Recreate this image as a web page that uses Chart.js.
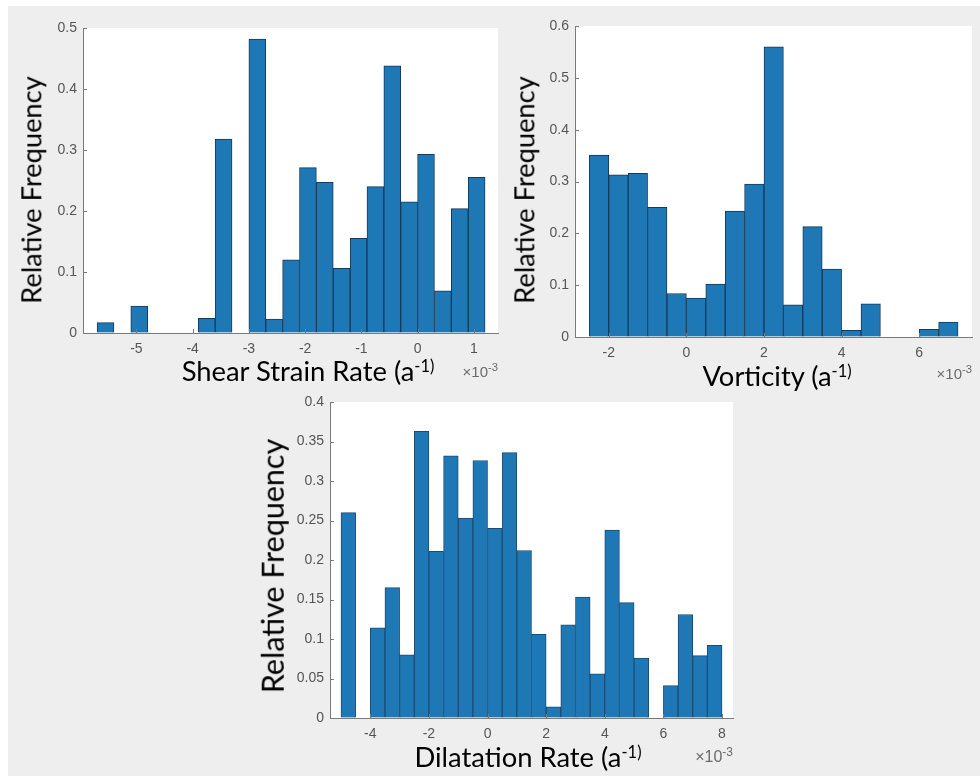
<!DOCTYPE html>
<html><head><meta charset="utf-8">
<script src="https://cdn.jsdelivr.net/npm/chart.js@4/dist/chart.umd.min.js"></script>
<style>
html,body{margin:0;padding:0;width:980px;height:776px;overflow:hidden;background:#fff;}
#bg{position:absolute;left:8px;top:6px;width:972px;height:770px;background:#eeeeee;}
canvas{position:absolute;left:0;top:0;}
.t{position:absolute;font-family:Lato,'Open Sans',sans-serif;color:#000;white-space:nowrap;line-height:1;}
.t sup{font-size:0.6em;vertical-align:baseline;position:relative;top:-0.55em;}
.xt{transform:translateX(-50%);}
.yt{transform:translate(-50%,-50%) rotate(-90deg);}
.m{position:absolute;font-family:'Liberation Sans',Arial,sans-serif;color:#6a6a6a;white-space:nowrap;line-height:1;}
.m sup{font-size:0.75em;vertical-align:baseline;position:relative;top:-0.5em;}
</style></head><body>
<div id="bg"></div>
<canvas id="c1" width="980" height="776"></canvas>
<canvas id="c2" width="980" height="776"></canvas>
<canvas id="c3" width="980" height="776"></canvas>

<div class="t yt" style="left:31px;top:190px;font-size:27.3px;">Relative Frequency</div>
<div class="t xt" style="left:308px;top:357px;font-size:27.4px;">Shear Strain Rate (a<sup>-1)</sup></div>
<div class="m" style="right:482px;top:364px;font-size:15px;">×10<sup>-3</sup></div>

<div class="t yt" style="left:524px;top:190px;font-size:27.3px;">Relative Frequency</div>
<div class="t xt" style="left:777px;top:362px;font-size:27.4px;">Vorticity (a<sup>-1)</sup></div>
<div class="m" style="right:8px;top:366px;font-size:15px;">×10<sup>-3</sup></div>

<div class="t yt" style="left:272px;top:566px;font-size:30.5px;">Relative Frequency</div>
<div class="t xt" style="left:528px;top:743px;font-size:27.4px;">Dilatation Rate (a<sup>-1)</sup></div>
<div class="m" style="right:247px;top:749px;font-size:16px;">×10<sup>-3</sup></div>

<script>
// ---- Shear strain rate (x 1e-3 a^-1), bins of 0.3 ----
const shearBins = [-5.55,-5.25,-4.95,-4.65,-4.35,-4.05,-3.75,-3.45,-3.15,-2.85,-2.55,-2.25,-1.95,-1.65,-1.35,-1.05,-0.75,-0.45,-0.15,0.15,0.45,0.75,1.05];
const shearFreq = [0.017,0,0.044,0,0,0,0.024,0.318,0,0.482,0.023,0.120,0.271,0.247,0.106,0.155,0.240,0.438,0.215,0.293,0.069,0.204,0.255];
const shearTicks = [-5,-4,-3,-2,-1,0,1];
const shearFreqTicks = [0,0.1,0.2,0.3,0.4,0.5];

// ---- Vorticity (x 1e-3 a^-1), bins of 0.5 ----
const vortBins = [-2.25,-1.75,-1.25,-0.75,-0.25,0.25,0.75,1.25,1.75,2.25,2.75,3.25,3.75,4.25,4.75,5.25,5.75,6.25,6.75];
const vortFreq = [0.351,0.313,0.316,0.250,0.084,0.075,0.102,0.243,0.295,0.560,0.062,0.213,0.131,0.013,0.064,0,0,0.015,0.029];
const vortTicks = [-2,0,2,4,6];
const vortFreqTicks = [0,0.1,0.2,0.3,0.4,0.5,0.6];

// ---- Dilatation rate (x 1e-3 a^-1), bins of 0.5 ----
const dilBins = [-4.75,-4.25,-3.75,-3.25,-2.75,-2.25,-1.75,-1.25,-0.75,-0.25,0.25,0.75,1.25,1.75,2.25,2.75,3.25,3.75,4.25,4.75,5.25,5.75,6.25,6.75,7.25,7.75];
const dilFreq = [0.260,0,0.114,0.165,0.080,0.363,0.211,0.332,0.253,0.326,0.240,0.336,0.212,0.106,0.014,0.118,0.153,0.056,0.238,0.146,0.076,0,0.041,0.131,0.079,0.092];
const dilTicks = [-4,-2,0,2,4,6,8];
const dilFreqTicks = [0,0.05,0.1,0.15,0.2,0.25,0.3,0.35,0.4];

const AXIS = '#7a7a7a';
const TICKCOL = '#555555';
const BAR = 'rgb(31,120,182)';

const plotBg = {
  id:'plotBg',
  beforeDraw(chart){
    const {ctx, chartArea:a} = chart;
    ctx.save(); ctx.fillStyle='#ffffff';
    ctx.fillRect(a.left, a.top, a.right-a.left, a.bottom-a.top);
    ctx.restore();
  }
};
const inwardTicks = {
  id:'inwardTicks',
  afterDatasetsDraw(chart){
    const {ctx, chartArea:a, scales:{x,y}} = chart;
    ctx.save(); ctx.strokeStyle=AXIS; ctx.lineWidth=1; ctx.beginPath();
    x.ticks.forEach(t=>{const p=Math.round(x.getPixelForValue(t.value))+0.5; ctx.moveTo(p,a.bottom); ctx.lineTo(p,a.bottom-4);});
    y.ticks.forEach(t=>{const p=Math.round(y.getPixelForValue(t.value))+0.5; ctx.moveTo(a.left,p); ctx.lineTo(a.left+4,p);});
    ctx.stroke(); ctx.restore();
  }
};

function makeHist(id, bins, freq, xTicks, yTicks, area, xr, opts){
  const yW = 50, xH = 30;
  const data = bins.map((b,i)=>({x:b, y:freq[i]}));
  return new Chart(document.getElementById(id), {
    type:'bar',
    data:{datasets:[{data, backgroundColor:BAR, borderColor:opts.edge, borderWidth:1, barPercentage:1, categoryPercentage:1}]},
    options:{
      responsive:false, animation:false, devicePixelRatio:1,
      layout:{autoPadding:false, padding:{left:area.left-yW, top:area.top, right:980-area.right, bottom:776-area.bottom-xH}},
      plugins:{legend:{display:false}, tooltip:{enabled:false}},
      scales:{
        x:{type:'linear', min:xr[0], max:xr[1], offset:false,
          afterBuildTicks(s){ s.ticks = xTicks.map(v=>({value:v})); },
          afterFit(s){ s.height = xH; s.paddingLeft=0; s.paddingRight=0; },
          grid:{display:true, drawOnChartArea:false, drawTicks:false},
          border:{display:true, color:AXIS, width:1},
          ticks:{autoSkip:false, maxRotation:0, padding:opts.xpad, color:TICKCOL, font:{family:'Liberation Sans', size:opts.tickSize}, callback:v=>String(v)}
        },
        y:{type:'linear', min:0, max:yTicks[yTicks.length-1],
          afterBuildTicks(s){ s.ticks = yTicks.map(v=>({value:v})); },
          afterFit(s){ s.width = yW; s.paddingTop=0; s.paddingBottom=0; },
          grid:{display:true, drawOnChartArea:false, drawTicks:false},
          border:{display:true, color:AXIS, width:1},
          ticks:{autoSkip:false, padding:6, color:TICKCOL, font:{family:'Liberation Sans', size:opts.tickSize}, callback:v=>String(v)}
        }
      }
    },
    plugins:[plotBg, inwardTicks]
  });
}

makeHist('c1', shearBins, shearFreq, shearTicks, shearFreqTicks, {left:83, top:28, right:498, bottom:333}, [-5.95, 1.43], {edge:'rgb(22,58,88)', xpad:8, tickSize:14});
makeHist('c2', vortBins, vortFreq, vortTicks, vortFreqTicks, {left:575, top:26, right:972, bottom:337}, [-2.87, 7.36], {edge:'rgb(22,58,88)', xpad:8, tickSize:14});
makeHist('c3', dilBins, dilFreq, dilTicks, dilFreqTicks, {left:330, top:402, right:733, bottom:718}, [-5.375, 8.375], {edge:'rgb(28,76,115)', xpad:8, tickSize:14});
</script>
</body></html>
